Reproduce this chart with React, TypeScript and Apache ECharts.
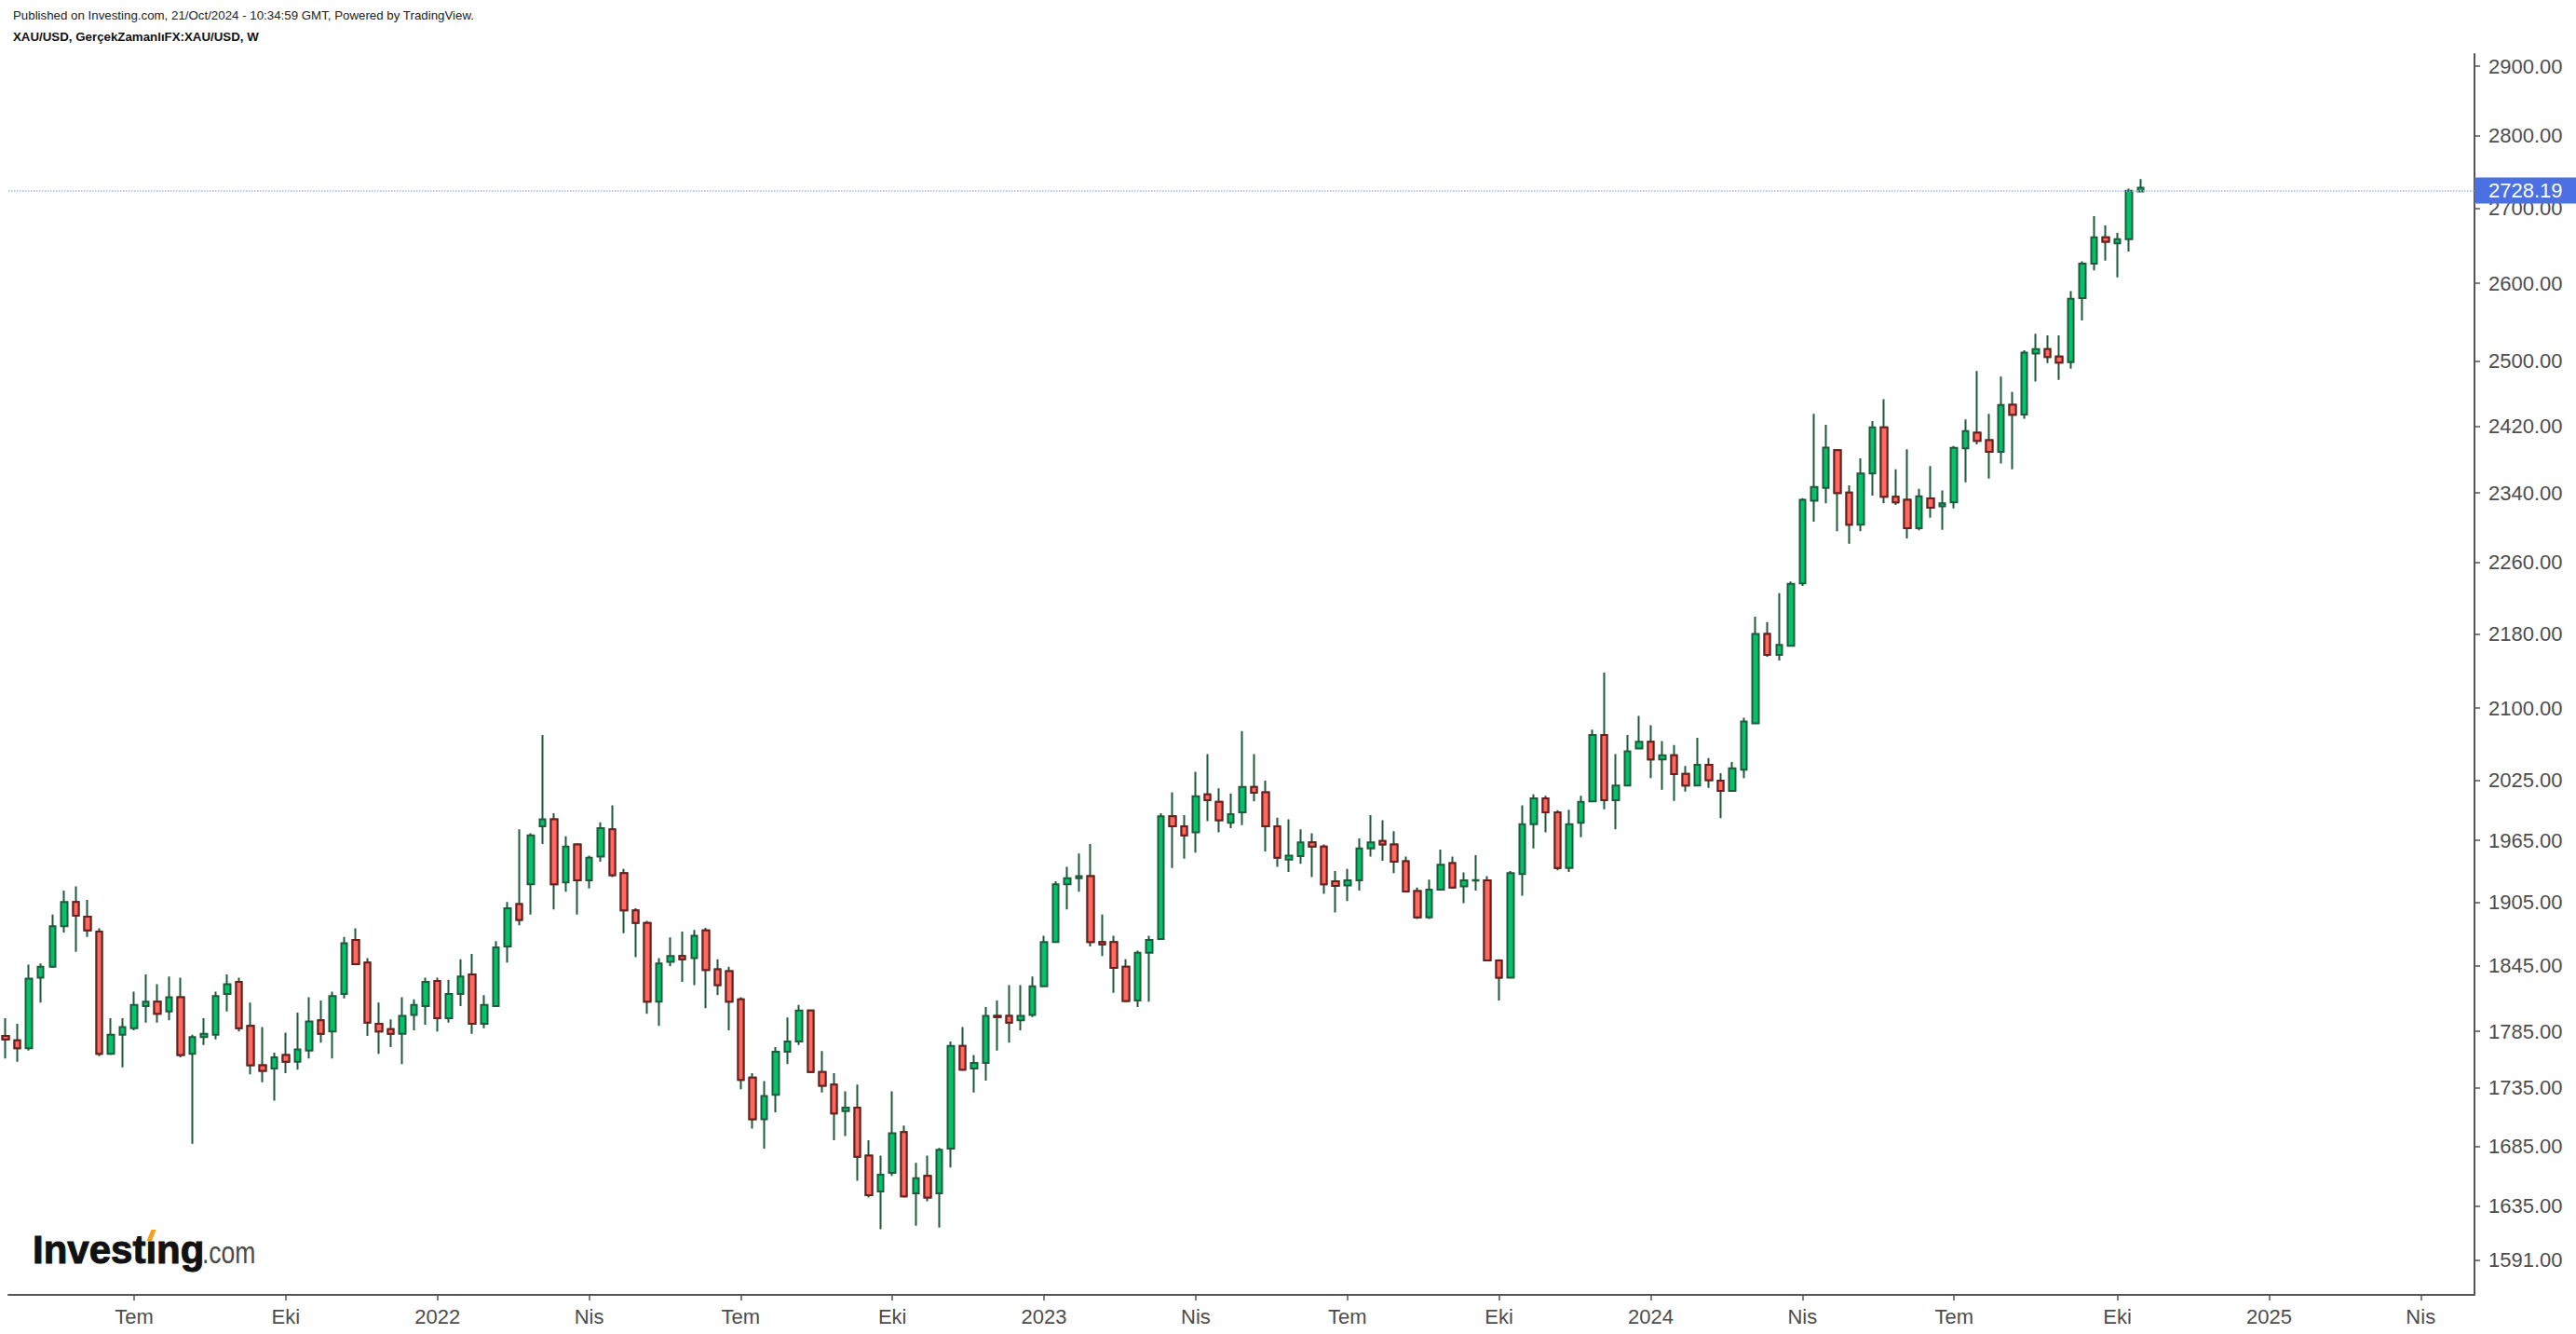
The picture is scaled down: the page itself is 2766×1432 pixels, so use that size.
import React, { useEffect, useRef } from "react";
import * as echarts from "echarts";

// ---------- data (weekly XAU/USD candles, first candle = week of 19 Apr 2021) ----------
const FIRST_WEEK_UTC = Date.UTC(2021, 3, 19);
const WEEK_MS = 7 * 86400000;

const OPEN = [
  1781, 1777, 1770, 1834, 1844, 1882, 1905, 1891, 1877, 1765,
  1782, 1788, 1808, 1812, 1803, 1816, 1765, 1780, 1782, 1819,
  1830, 1790, 1755, 1752, 1764, 1758, 1768, 1795, 1785, 1819,
  1869, 1848, 1792, 1787, 1783, 1800, 1808, 1831, 1797, 1819,
  1837, 1792, 1808, 1863, 1903, 1922, 1979, 1986, 1924, 1961,
  1926, 1949, 1976, 1933, 1897, 1885, 1812, 1848.5, 1854, 1852,
  1878, 1841.6, 1840, 1814, 1744, 1708, 1729, 1767, 1776, 1804,
  1749, 1738, 1715, 1718, 1677, 1647, 1662.5, 1697, 1645.5, 1660,
  1645.5, 1683, 1772, 1752, 1757, 1799, 1799, 1795, 1800, 1826,
  1867, 1922, 1928, 1930, 1867, 1867, 1844, 1813, 1857, 1870,
  1989, 1979, 1973, 2011, 2003.5, 1982.5, 1993, 2018.5, 2013, 1979,
  1946, 1949.5, 1963, 1959, 1925, 1921, 1926, 1957, 1964.5, 1961,
  1944.5, 1915.5, 1890.5, 1917, 1942.7, 1920, 1925.8, 1926, 1850, 1834,
  1932, 1981, 2007, 1993, 1938, 1982.5, 2004, 2072, 2005, 2020,
  2058, 2065, 2046.6, 2051, 2031.8, 2020, 2041, 2025, 2014.4, 2036,
  2084, 2180, 2157, 2167, 2236, 2331, 2346, 2391, 2340.5, 2303,
  2363, 2418.5, 2335.5, 2332, 2299, 2333.6, 2324.5, 2329, 2393, 2412,
  2403, 2389, 2446, 2434, 2510, 2515.6, 2506, 2499, 2581, 2626,
  2661, 2653, 2658.5, 2723,
];

const HIGH = [
  1797, 1792, 1846, 1847, 1893, 1916, 1920, 1907, 1880, 1797,
  1797, 1821, 1837, 1828, 1835, 1834, 1782, 1797, 1821, 1837,
  1834, 1811, 1789, 1766, 1784, 1802, 1816, 1813, 1821, 1872,
  1880, 1852, 1811, 1796, 1816, 1814, 1834, 1834, 1832, 1851,
  1856, 1818, 1868, 1905, 1976, 1972, 2072, 1992, 1969, 1962,
  1950, 1983, 2000, 1937, 1899, 1887, 1852, 1871.5, 1877, 1878.5,
  1880.5, 1851, 1844, 1816, 1748, 1741, 1771, 1797.5, 1809, 1804.5,
  1767.5, 1748, 1732, 1738, 1690, 1677, 1732, 1702.5, 1671, 1677,
  1683.5, 1776, 1789, 1764, 1807, 1813, 1827, 1827, 1835, 1873,
  1925, 1939, 1952, 1961.5, 1893, 1873, 1851, 1859, 1873, 1992,
  2013, 1990, 2034, 2052, 2017, 2012, 2076, 2052, 2025, 1987.5,
  1986, 1976, 1972, 1961, 1935, 1937, 1967, 1990, 1985, 1974,
  1949, 1919, 1926.5, 1956, 1949, 1933.5, 1950.5, 1930, 1851, 1935,
  2000, 2011, 2009.5, 1995, 1995.5, 2009.5, 2077.5, 2138, 2052, 2072,
  2092, 2082, 2065.5, 2061.6, 2040, 2069, 2048, 2032.6, 2044, 2090,
  2199, 2193, 2225, 2238, 2334, 2435, 2421.5, 2392, 2349, 2381,
  2426, 2453, 2368, 2392, 2345, 2372, 2343, 2396, 2428, 2488,
  2435, 2481, 2462, 2514, 2535, 2533, 2533, 2590, 2629, 2689.5,
  2677, 2667, 2727, 2740,
];

const LOW = [
  1761, 1758, 1768, 1811, 1843, 1876, 1858, 1872, 1763, 1764,
  1753, 1786, 1793, 1793, 1795, 1762, 1687, 1773, 1778, 1803,
  1785, 1747, 1740, 1724, 1748, 1751, 1761, 1775, 1761, 1815,
  1845.5, 1781, 1765, 1771, 1756, 1786, 1791, 1785, 1793, 1808,
  1783, 1788, 1807.5, 1848, 1883, 1893, 1961.5, 1898, 1915, 1893,
  1918, 1944, 1929, 1875.5, 1853, 1801, 1790, 1844.5, 1830, 1827,
  1806, 1818, 1786, 1734, 1700, 1683, 1714, 1756, 1773, 1748,
  1731, 1690, 1693.5, 1656, 1642, 1616, 1660, 1642, 1619, 1639,
  1617.5, 1667, 1750, 1731, 1741.5, 1768, 1775, 1786, 1798, 1825.5,
  1866.5, 1898, 1915, 1863, 1854, 1820, 1811.5, 1807, 1812, 1869.5,
  1938, 1947, 1953, 1984, 1973, 1977, 1980, 2004, 1954, 1939,
  1934, 1942, 1929, 1913, 1895, 1906, 1916, 1949, 1945, 1933,
  1914.5, 1888.8, 1888.8, 1916.5, 1918.5, 1904, 1916, 1849.5, 1813, 1833.5,
  1911, 1957, 1973, 1935.6, 1934, 1968, 2003.5, 1996, 1976, 2019.7,
  2057, 2027.5, 2015.6, 2004.4, 2013.7, 2019, 2017.5, 1987, 2014, 2027.5,
  2083.5, 2155, 2151, 2166.5, 2233, 2306.5, 2328, 2295.5, 2281, 2295.5,
  2337, 2328, 2326, 2287, 2296.6, 2311, 2297, 2322, 2352.6, 2398,
  2357, 2375, 2368, 2429, 2475, 2498, 2477, 2491, 2552, 2617,
  2630, 2608, 2642, 2722,
];

const CLOSE = [
  1778, 1770, 1833, 1844, 1882, 1905, 1892, 1878, 1765, 1782,
  1789, 1809, 1812, 1801, 1816, 1764, 1780, 1783, 1817, 1828,
  1788, 1755, 1750, 1762, 1758, 1769, 1794, 1783, 1817, 1866,
  1846.5, 1793, 1785, 1783, 1799, 1809, 1830, 1797, 1819, 1835,
  1792, 1809, 1862, 1899, 1888, 1970, 1986, 1922, 1959, 1926,
  1948, 1977, 1931, 1897, 1885, 1812, 1847, 1854, 1851, 1873,
  1841, 1827, 1812, 1742, 1708, 1728, 1767, 1776, 1804, 1749,
  1737, 1713, 1718, 1676, 1644, 1661, 1696, 1643, 1658, 1642,
  1682, 1772, 1751, 1757, 1799, 1798, 1793, 1799, 1826, 1867,
  1922, 1928, 1930, 1867, 1865, 1843, 1812.5, 1857, 1869, 1989,
  1979, 1970, 2009, 2005, 1985, 1991, 2018.5, 2012.6, 1979, 1948,
  1950, 1963, 1959, 1922, 1920.5, 1926, 1957, 1963, 1961, 1944,
  1915.2, 1890.5, 1917, 1941, 1919, 1926, 1926.2, 1850, 1834, 1933,
  1981, 2007, 1993, 1938, 1981, 2003.5, 2072, 2005, 2020, 2055,
  2065, 2046.6, 2051, 2031.6, 2020, 2041, 2025.4, 2014.4, 2037.6, 2086,
  2180, 2157, 2168, 2235.5, 2332, 2347, 2394, 2340, 2303, 2363,
  2418.5, 2335.5, 2329, 2299, 2336, 2322.8, 2328, 2393.6, 2414, 2402,
  2389, 2445.7, 2433.7, 2511, 2515.6, 2505.5, 2498.4, 2580, 2626, 2661,
  2655, 2658.5, 2724, 2728.19,
];

const Y_TICKS = [
  1591, 1635, 1685, 1735, 1785, 1845, 1905, 1965, 2025, 2100,
  2180, 2260, 2340, 2420, 2500, 2600, 2700, 2800, 2900,
];
const LAST_PRICE = 2728.19;
const QUARTER_NAMES: Record<number, string> = { 3: "Nis", 6: "Tem", 9: "Eki" };
const HEADER_1 = "Published on Investing.com, 21/Oct/2024 - 10:34:59 GMT, Powered by TradingView.";
const HEADER_2 = "XAU/USD, GerçekZamanlıFX:XAU/USD, W";

// visible ranges of the two axes (price axis is logarithmic)
const Y_RANGE = [1563.6, 2917.8];
const X_RANGE = [0.226, 211.61];

// ---------- styles ----------
const FONT = '"Liberation Sans", Arial, Helvetica, sans-serif';
const UP_FILL = "#00c46a";
const DOWN_FILL = "#ff6a5f";
const WICK = "#1f5a3c";
const DOWN_BORDER = "#6e1c1c";
const AXIS = "#555555";
const LABEL = "#4d4d4d";

function buildXTicks() {
  const idx: number[] = [];
  const labels: Record<number, string> = {};
  for (let i = 0; i <= Math.floor(X_RANGE[1]); i++) {
    const d = new Date(FIRST_WEEK_UTC + i * WEEK_MS);
    const m = d.getUTCMonth();
    if (m % 3 !== 0 || d.getUTCDate() > 7) continue;
    idx.push(i);
    labels[i] = m === 0 ? String(d.getUTCFullYear()) : QUARTER_NAMES[m];
  }
  return { idx, labels };
}

function nearestTick(v: number) {
  let best = Y_TICKS[0];
  for (const t of Y_TICKS) {
    if (Math.abs(Math.log(t) - v) < Math.abs(Math.log(best) - v)) best = t;
  }
  return best;
}

function buildOption() {
  const ln = Math.log;
  const { idx, labels } = buildXTicks();
  const candles = OPEN.map((o, i) => [i, ln(o), ln(CLOSE[i]), ln(LOW[i]), ln(HIGH[i])]);
  const downBodies = OPEN.map((o, i) =>
    o > CLOSE[i] ? [i, ln(o), ln(CLOSE[i]), ln(CLOSE[i]), ln(o)] : null
  ).filter((d) => d !== null);
  const yTickVals = Y_TICKS.map((t) => ln(t));

  return {
    animation: false,
    backgroundColor: "#ffffff",
    grid: { left: 9, right: 109, top: 58, bottom: 42, containLabel: false },
    xAxis: {
      type: "value",
      min: X_RANGE[0],
      max: X_RANGE[1],
      splitLine: { show: false },
      axisLine: { show: true, onZero: false, lineStyle: { color: AXIS, width: 2 } },
      axisTick: { show: true, customValues: idx, length: 6, lineStyle: { color: AXIS, width: 1.5 } },
      axisLabel: {
        show: true,
        customValues: idx,
        formatter: (v: number) => labels[Math.round(v)] ?? "",
        color: LABEL,
        fontFamily: FONT,
        fontSize: 22,
        margin: 12,
        hideOverlap: false,
      },
    },
    yAxis: {
      type: "value",
      position: "right",
      min: ln(Y_RANGE[0]),
      max: ln(Y_RANGE[1]),
      splitLine: { show: false },
      axisLine: { show: true, onZero: false, lineStyle: { color: AXIS, width: 2 } },
      axisTick: { show: true, customValues: yTickVals, length: 6, lineStyle: { color: AXIS, width: 1.5 } },
      axisLabel: {
        show: true,
        customValues: yTickVals,
        formatter: (v: number) => nearestTick(v).toFixed(2),
        color: LABEL,
        fontFamily: FONT,
        fontSize: 22,
        margin: 15,
        hideOverlap: false,
      },
    },
    series: [
      {
        type: "candlestick",
        name: "XAU/USD",
        data: candles,
        barWidth: 7,
        silent: true,
        clip: true,
        itemStyle: {
          color: UP_FILL,
          color0: DOWN_FILL,
          borderColor: WICK,
          borderColor0: WICK,
          borderWidth: 2,
        },
        emphasis: { disabled: true },
        markLine: {
          silent: true,
          animation: false,
          symbol: ["none", "none"],
          data: [{ yAxis: ln(LAST_PRICE) }],
          lineStyle: { color: "#a5b6ef", type: "dotted", width: 1.5 },
          label: {
            show: true,
            position: "end",
            distance: 0,
            formatter: LAST_PRICE.toFixed(2),
            color: "#ffffff",
            backgroundColor: "#4a70e4",
            fontFamily: FONT,
            fontSize: 22,
            padding: [3, 30, 3, 15],
          },
          emphasis: { disabled: true },
        },
      },
      {
        type: "candlestick",
        name: "down bodies",
        data: downBodies,
        barWidth: 7,
        silent: true,
        clip: true,
        itemStyle: {
          color: DOWN_FILL,
          color0: DOWN_FILL,
          borderColor: DOWN_BORDER,
          borderColor0: DOWN_BORDER,
          borderWidth: 2,
        },
        emphasis: { disabled: true },
      },
    ],
    graphic: [
      {
        type: "text",
        x: 14,
        y: 16,
        style: { text: HEADER_1, font: `13.3px ${FONT}`, fill: "#222222", verticalAlign: "middle" },
      },
      {
        type: "text",
        x: 14,
        y: 39,
        style: { text: HEADER_2, font: `bold 13.3px ${FONT}`, fill: "#111111", verticalAlign: "middle" },
      },
      {
        type: "text",
        x: 35,
        y: 1341.5,
        style: {
          text: "Investıng",
          font: `bold 42px ${FONT}`,
          fill: "#111111",
          stroke: "#111111",
          lineWidth: 1,
          verticalAlign: "middle",
        },
      },
      {
        type: "text",
        x: 217,
        y: 1344,
        scaleX: 0.78,
        style: { text: ".com", font: `34px ${FONT}`, fill: "#4a4a4a", verticalAlign: "middle" },
      },
      {
        type: "polygon",
        shape: { points: [[157.5, 1332], [163, 1332], [167.5, 1320], [162.5, 1320]] },
        style: { fill: "#f5a01e" },
      },
    ],
  };
}

export default function App() {
  const ref = useRef<HTMLDivElement>(null);
  useEffect(() => {
    if (!ref.current) return;
    const chart = echarts.init(ref.current, null, { renderer: "svg" });
    chart.setOption(buildOption() as any);
    return () => chart.dispose();
  }, []);
  return (
    <div
      ref={ref}
      style={{ position: "fixed", left: 0, top: 0, width: 2766, height: 1432, background: "#ffffff" }}
    />
  );
}
